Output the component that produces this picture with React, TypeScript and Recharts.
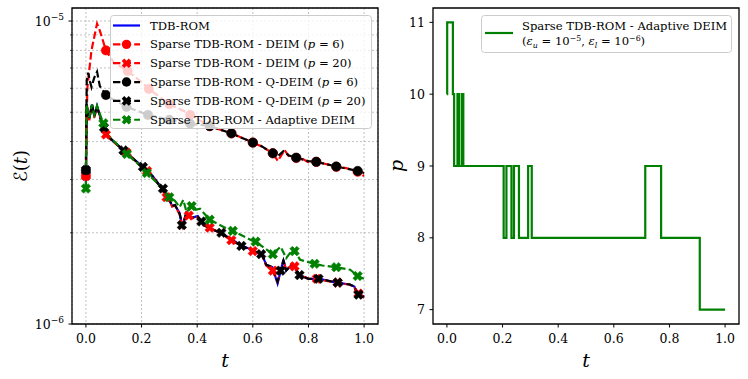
import React from 'react';
import { LineChart, Line, XAxis, YAxis, CartesianGrid, ReferenceArea, Legend, Label } from 'recharts';

const FONT = '"DejaVu Serif", "Liberation Serif", serif';
const INK = '#000000';
const BLUE = '#0000ff';
const RED = '#ff0000';
const BLACK = '#000000';
const GREEN = '#008000';
const DASH = '7.4 3.2';
const LW = 2.2;
const LEG_FS = 11.6;

// ---------- tick values ----------
const tTicks = [0, 0.2, 0.4, 0.6, 0.8, 1.0];
const errTicks = [1e-6, 2e-6, 3e-6, 4e-6, 5e-6, 6e-6, 7e-6, 8e-6, 9e-6, 1e-5];
const pTicks = [7, 8, 9, 10, 11];

// ---------- left panel: error E(t), values in units of 1e-6 ----------
const lowT = [0, 0.002, 0.012, 0.022, 0.03, 0.04, 0.055, 0.07, 0.1, 0.15, 0.2, 0.24, 0.266, 0.29, 0.3, 0.31, 0.32, 0.337, 0.347, 0.361, 0.379, 0.402, 0.42, 0.45, 0.48, 0.5, 0.523, 0.553, 0.6, 0.625, 0.635, 0.648, 0.67, 0.689, 0.71, 0.72, 0.743, 0.768, 0.8, 0.84, 0.9, 0.948, 0.965, 0.976, 1.0];
const tdbE = [2.8, 5.3, 4.75, 5.3, 4.85, 5.25, 4.7, 4.25, 4.0, 3.65, 3.33, 3.08, 2.86, 2.66, 2.58, 2.45, 2.47, 2.32, 2.09, 2.33, 2.24, 2.27, 2.13, 2.06, 2.01, 1.96, 1.9, 1.83, 1.75, 1.7, 1.68, 1.57, 1.54, 1.36, 1.63, 1.5, 1.58, 1.45, 1.41, 1.41, 1.37, 1.35, 1.33, 1.26, 1.23];
const deim20E = [3.08, 5.35, 4.7, 5.28, 4.8, 5.2, 4.72, 4.22, 3.98, 3.66, 3.3, 3.06, 2.85, 2.62, 2.56, 2.44, 2.46, 2.3, 2.1, 2.31, 2.23, 2.25, 2.12, 2.07, 2.0, 1.95, 1.89, 1.82, 1.74, 1.7, 1.67, 1.56, 1.5, 1.38, 1.6, 1.52, 1.56, 1.45, 1.41, 1.4, 1.37, 1.35, 1.32, 1.27, 1.22];
const qdeim20E = [3.22, 5.3, 4.78, 5.32, 4.86, 5.22, 4.68, 4.25, 4.0, 3.64, 3.32, 3.07, 2.85, 2.66, 2.57, 2.45, 2.47, 2.31, 2.1, 2.33, 2.24, 2.26, 2.13, 2.06, 2.01, 1.96, 1.9, 1.82, 1.75, 1.7, 1.68, 1.57, 1.54, 1.38, 1.62, 1.5, 1.58, 1.45, 1.41, 1.41, 1.37, 1.35, 1.33, 1.26, 1.23];

const deim20MarkT = [0, 0.072, 0.146, 0.22, 0.29, 0.37, 0.445, 0.523, 0.6, 0.672, 0.75, 0.83, 0.905, 0.98];
const deim20MarkE = [3.08, 4.22, 3.68, 3.2, 2.62, 2.28, 2.08, 1.89, 1.74, 1.5, 1.55, 1.41, 1.37, 1.26];
const qdeim20MarkT = [0, 0.065, 0.135, 0.205, 0.277, 0.345, 0.415, 0.487, 0.559, 0.63, 0.7, 0.768, 0.836, 0.905, 0.98];
const qdeim20MarkE = [3.22, 4.45, 3.74, 3.3, 2.8, 2.12, 2.18, 2.0, 1.81, 1.7, 1.5, 1.45, 1.41, 1.37, 1.25];

const adaptT = [0, 0.002, 0.012, 0.022, 0.03, 0.04, 0.055, 0.063, 0.07, 0.1, 0.147, 0.2, 0.219, 0.266, 0.3, 0.32, 0.337, 0.35, 0.362, 0.38, 0.395, 0.41, 0.445, 0.5, 0.528, 0.6, 0.61, 0.65, 0.672, 0.7, 0.72, 0.745, 0.77, 0.8, 0.822, 0.85, 0.9, 0.95, 0.977, 1.0];
const adaptE = [2.8, 5.3, 4.8, 5.3, 4.9, 5.25, 4.8, 4.6, 4.3, 4.02, 3.64, 3.3, 3.15, 2.86, 2.62, 2.55, 2.43, 2.57, 2.34, 2.45, 2.38, 2.4, 2.21, 2.08, 2.03, 1.88, 1.87, 1.76, 1.7, 1.8, 1.65, 1.77, 1.63, 1.6, 1.58, 1.56, 1.54, 1.51, 1.44, 1.41];
const adaptMarkT = [0, 0.063, 0.147, 0.219, 0.3, 0.38, 0.445, 0.528, 0.61, 0.672, 0.75, 0.822, 0.9, 0.977];
const adaptMarkE = [2.8, 4.6, 3.64, 3.15, 2.62, 2.45, 2.21, 2.03, 1.87, 1.7, 1.74, 1.58, 1.54, 1.44];

const deim6T = [0, 0.005, 0.02, 0.04, 0.05, 0.072, 0.1, 0.15, 0.2, 0.226, 0.3, 0.36, 0.375, 0.4, 0.445, 0.5, 0.523, 0.6, 0.63, 0.66, 0.672, 0.69, 0.714, 0.732, 0.756, 0.78, 0.804, 0.828, 0.876, 0.9, 0.936, 0.977, 1.0];
const deim6E = [3.08, 6.0, 8.0, 9.8, 9.3, 8.0, 7.3, 6.84, 6.29, 5.97, 5.32, 5.0, 4.9, 4.75, 4.5, 4.32, 4.26, 3.97, 3.86, 3.72, 3.66, 3.45, 3.75, 3.55, 3.53, 3.5, 3.4, 3.43, 3.35, 3.3, 3.27, 3.18, 3.08];
const deim6MarkT = [0, 0.072, 0.15, 0.226, 0.3, 0.375, 0.445, 0.523, 0.6, 0.672, 0.756, 0.828, 0.9, 0.977];
const deim6MarkE = [3.08, 8.0, 6.84, 5.97, 5.32, 4.9, 4.5, 4.26, 3.97, 3.66, 3.53, 3.43, 3.3, 3.18];

const qdeim6T = [0, 0.003, 0.008, 0.015, 0.02, 0.03, 0.04, 0.05, 0.072, 0.1, 0.146, 0.223, 0.3, 0.375, 0.43, 0.445, 0.523, 0.6, 0.63, 0.672, 0.69, 0.71, 0.73, 0.756, 0.8, 0.828, 0.9, 0.977, 1.0];
const qdeim6E = [3.22, 6.4, 6.75, 6.3, 6.05, 6.5, 6.8, 6.1, 5.7, 5.49, 5.21, 4.9, 4.72, 4.58, 4.52, 4.5, 4.26, 3.97, 3.87, 3.66, 3.58, 3.72, 3.6, 3.54, 3.45, 3.43, 3.31, 3.2, 3.15];
const qdeim6MarkT = [0, 0.072, 0.146, 0.223, 0.3, 0.375, 0.445, 0.523, 0.6, 0.672, 0.756, 0.828, 0.9, 0.977];
const qdeim6MarkE = [3.22, 5.7, 5.21, 4.9, 4.72, 4.58, 4.5, 4.26, 3.97, 3.66, 3.54, 3.43, 3.31, 3.2];

// ---------- right panel: number of DEIM points p(t) ----------
const pT = [0, 0.001, 0.0215, 0.026, 0.038, 0.044, 0.054, 0.059, 0.204, 0.214, 0.232, 0.241, 0.259, 0.292, 0.305, 0.713, 0.77, 0.909, 1.0];
const pV = [10, 11, 10, 9, 10, 9, 10, 9, 8, 9, 8, 9, 8, 9, 8, 9, 8, 7, 7];

// ---------- build tables ----------
const UNIT = 1e-6;
const pts = (ts: number[], vs: number[], unit = 1) => ts.map((t, i) => ({ t, v: vs[i] * unit }));

const tdbData = pts(lowT, tdbE, UNIT);
const deim20Data = pts(lowT, deim20E, UNIT);
const qdeim20Data = pts(lowT, qdeim20E, UNIT);
const deim6Data = pts(deim6T, deim6E, UNIT);
const qdeim6Data = pts(qdeim6T, qdeim6E, UNIT);
const adaptData = pts(adaptT, adaptE, UNIT);
const deim6Marks = pts(deim6MarkT, deim6MarkE, UNIT);
const deim20Marks = pts(deim20MarkT, deim20MarkE, UNIT);
const qdeim6Marks = pts(qdeim6MarkT, qdeim6MarkE, UNIT);
const qdeim20Marks = pts(qdeim20MarkT, qdeim20MarkE, UNIT);
const adaptMarks = pts(adaptMarkT, adaptMarkE, UNIT);
const pData = pts(pT, pV);

const ERR_DOMAIN: [number, number] = [1e-6, 1.104e-5];
const T_DOMAIN: [number, number] = [-0.05, 1.05];
const P_DOMAIN: [number, number] = [6.8, 11.2];

// ---------- marker shapes ----------
function xPath(cx: number, cy: number, a: number) {
  const w = a * 0.36;
  const P = [[-w, -a], [w, -a], [w, -w], [a, -w], [a, w], [w, w], [w, a], [-w, a], [-w, w], [-a, w], [-a, -w], [-w, -w]];
  const c = Math.SQRT1_2;
  return 'M' + P.map(([x, y]) => `${(cx + (x - y) * c).toFixed(2)},${(cy + (x + y) * c).toFixed(2)}`).join('L') + 'Z';
}

const circleDot = (color: string) => (props: any) => {
  const { cx, cy, index } = props;
  if (cx == null || cy == null || isNaN(cx) || isNaN(cy)) return <g key={`c${index}`} />;
  return <circle key={`c${index}`} cx={cx} cy={cy} r={4.7} fill={color} stroke={color} strokeWidth={0.5} />;
};
const xDot = (color: string) => (props: any) => {
  const { cx, cy, index } = props;
  if (cx == null || cy == null || isNaN(cx) || isNaN(cy)) return <g key={`x${index}`} />;
  return <path key={`x${index}`} d={xPath(cx, cy, 5)} fill={color} stroke={color} strokeWidth={0.5} />;
};

// ---------- ticks ----------
const BottomTick = (props: any) => {
  const { x, y, payload } = props;
  return (
    <g>
      <line x1={x} x2={x} y1={y} y2={y + 3.5} stroke={INK} strokeWidth={1} />
      <text x={x} y={y + 19} textAnchor="middle" fontFamily={FONT} fontSize={12.5} fill={INK}>
        {Number(payload.value).toFixed(1)}
      </text>
    </g>
  );
};

const ErrTick = (props: any) => {
  const { x, y, payload } = props;
  const e = Math.log10(payload.value);
  const major = Math.abs(e - Math.round(e)) < 1e-9;
  return (
    <g>
      <line x1={x} x2={x - (major ? 3.5 : 2)} y1={y} y2={y} stroke={INK} strokeWidth={major ? 1 : 0.7} />
      {major && (
        <text x={x - 8} y={y + 4.5} textAnchor="end" fontFamily={FONT} fontSize={12.5} fill={INK}>
          10
          <tspan dy={-5.5} fontSize={9}>{'\u2212' + Math.abs(Math.round(e))}</tspan>
        </text>
      )}
    </g>
  );
};

const PTick = (props: any) => {
  const { x, y, payload } = props;
  return (
    <g>
      <line x1={x} x2={x - 3.5} y1={y} y2={y} stroke={INK} strokeWidth={1} />
      <text x={x - 8} y={y + 4.5} textAnchor="end" fontFamily={FONT} fontSize={12.5} fill={INK}>
        {payload.value}
      </text>
    </g>
  );
};

// ---------- legends ----------
const leftLegend = [
  { name: 'TDB-ROM', p: '', color: BLUE, dash: false, marker: '' },
  { name: 'Sparse TDB-ROM - DEIM', p: '6', color: RED, dash: true, marker: 'o' },
  { name: 'Sparse TDB-ROM - DEIM', p: '20', color: RED, dash: true, marker: 'X' },
  { name: 'Sparse TDB-ROM - Q-DEIM', p: '6', color: BLACK, dash: true, marker: 'o' },
  { name: 'Sparse TDB-ROM - Q-DEIM', p: '20', color: BLACK, dash: true, marker: 'X' },
  { name: 'Sparse TDB-ROM - Adaptive DEIM', p: '', color: GREEN, dash: true, marker: 'X' },
];

const LEFT_LEG = { left: 110, top: 15, width: 262, height: 114 };
const RIGHT_LEG = { left: 101, top: 15, width: 251, height: 38 };

const LeftLegendBox = () => (
  <svg width={LEFT_LEG.width} height={LEFT_LEG.height} style={{ display: 'block' }}>
    <rect x={0.5} y={0.5} width={LEFT_LEG.width - 1} height={LEFT_LEG.height - 1} rx={3} fill="#ffffff" fillOpacity={0.8} stroke="#cccccc" strokeWidth={1} />
    {leftLegend.map((e, i) => {
      const cy = 10.5 + i * 18.85;
      return (
        <g key={i}>
          <line x1={3} x2={30} y1={cy} y2={cy} stroke={e.color} strokeWidth={LW} strokeDasharray={e.dash ? DASH : undefined} />
          {e.marker === 'o' && <circle cx={16.5} cy={cy} r={4.7} fill={e.color} />}
          {e.marker === 'X' && <path d={xPath(16.5, cy, 5)} fill={e.color} />}
          <text x={40} y={cy + 4} fontFamily={FONT} fontSize={LEG_FS} fill={INK}>
            {e.name}
            {e.p ? (
              <tspan>
                {' ('}
                <tspan fontStyle="italic">p</tspan>
                {' = ' + e.p + ')'}
              </tspan>
            ) : null}
          </text>
        </g>
      );
    })}
  </svg>
);

const RightLegendBox = () => (
  <svg width={RIGHT_LEG.width} height={RIGHT_LEG.height} style={{ display: 'block' }}>
    <rect x={0.5} y={0.5} width={RIGHT_LEG.width - 1} height={RIGHT_LEG.height - 1} rx={3} fill="#ffffff" fillOpacity={0.8} stroke="#cccccc" strokeWidth={1} />
    <line x1={4} x2={32} y1={18} y2={18} stroke={GREEN} strokeWidth={LW} />
    <text x={41} y={14.5} fontFamily={FONT} fontSize={LEG_FS} fill={INK}>Sparse TDB-ROM - Adaptive DEIM</text>
    <text x={41} y={30} fontFamily={FONT} fontSize={LEG_FS} fill={INK}>
      (<tspan fontStyle="italic">ε</tspan>
      <tspan fontSize={7.8} fontStyle="italic" dy={2.5}>u</tspan>
      <tspan dy={-2.5}> = 10</tspan>
      <tspan fontSize={7.8} dy={-4.5}>{'\u22125'}</tspan>
      <tspan dy={4.5}>, </tspan>
      <tspan fontStyle="italic">ε</tspan>
      <tspan fontSize={7.8} fontStyle="italic" dy={2.5}>l</tspan>
      <tspan dy={-2.5}> = 10</tspan>
      <tspan fontSize={7.8} dy={-4.5}>{'\u22126'}</tspan>
      <tspan dy={4.5}>)</tspan>
    </text>
  </svg>
);

// ---------- axis labels ----------
const XLabel = (props: any) => {
  const vb = props.viewBox || { x: 0, y: 0, width: 0, height: 0 };
  return (
    <text x={vb.x + vb.width / 2} y={vb.y + 43} textAnchor="middle" fontFamily={FONT} fontStyle="italic" fontSize={19} fill={INK}>
      t
    </text>
  );
};

const ErrLabel = (props: any) => {
  const vb = props.viewBox || { x: 0, y: 0, width: 0, height: 0 };
  const cx = vb.x + 20;
  const cy = vb.y + vb.height / 2;
  return (
    <text x={cx} y={cy} transform={`rotate(-90 ${cx} ${cy})`} textAnchor="middle" dominantBaseline="central" fontFamily={FONT} fontSize={18} fill={INK}>
      <tspan fontFamily='"DejaVu Sans", "DejaVu Serif", serif'>ℰ</tspan>(<tspan fontStyle="italic">t</tspan>)
    </text>
  );
};

const PLabel = (props: any) => {
  const vb = props.viewBox || { x: 0, y: 0, width: 0, height: 0 };
  const cx = vb.x + 16;
  const cy = vb.y + vb.height / 2;
  return (
    <text x={cx} y={cy} transform={`rotate(-90 ${cx} ${cy})`} textAnchor="middle" dominantBaseline="central" fontFamily={FONT} fontStyle="italic" fontSize={19} fill={INK}>
      p
    </text>
  );
};

const dashedLine = (key: string, data: any[], color: string) => (
  <Line key={key} data={data} dataKey="v" type="linear" stroke={color} strokeWidth={LW} strokeDasharray={DASH} dot={false} activeDot={false} isAnimationActive={false} legendType="none" />
);
const markLine = (key: string, data: any[], render: any) => (
  <Line key={key} data={data} dataKey="v" type="linear" stroke="none" strokeWidth={0} dot={render} activeDot={false} isAnimationActive={false} legendType="none" />
);

export default function App() {
  return (
    <div style={{ position: 'absolute', left: 0, top: 0, width: 748, height: 379, background: '#ffffff' }}>
      <div style={{ position: 'absolute', left: 0, top: 0 }}>
        <LineChart width={380} height={379} margin={{ top: 8, right: 2, bottom: 25, left: 0 }}>
          <CartesianGrid stroke="#b0b0b0" strokeWidth={0.8} strokeDasharray="2 2" />
          <XAxis type="number" dataKey="t" domain={T_DOMAIN} allowDataOverflow ticks={tTicks} interval={0} tick={<BottomTick />} tickSize={0} tickMargin={0} tickLine={false} axisLine={false} height={30}>
            <Label content={<XLabel />} />
          </XAxis>
          <YAxis type="number" dataKey="v" scale="log" domain={ERR_DOMAIN} allowDataOverflow ticks={errTicks} interval={0} tick={<ErrTick />} tickSize={0} tickMargin={0} tickLine={false} axisLine={false} width={72}>
            <Label content={<ErrLabel />} />
          </YAxis>
          <Line data={tdbData} dataKey="v" type="linear" stroke={BLUE} strokeWidth={LW} dot={false} activeDot={false} isAnimationActive={false} legendType="none" />
          {dashedLine('d6', deim6Data, RED)}
          {markLine('d6m', deim6Marks, circleDot(RED))}
          {dashedLine('d20', deim20Data, RED)}
          {markLine('d20m', deim20Marks, xDot(RED))}
          {dashedLine('q6', qdeim6Data, BLACK)}
          {markLine('q6m', qdeim6Marks, circleDot(BLACK))}
          {dashedLine('q20', qdeim20Data, BLACK)}
          {markLine('q20m', qdeim20Marks, xDot(BLACK))}
          {dashedLine('ad', adaptData, GREEN)}
          {markLine('adm', adaptMarks, xDot(GREEN))}
          <ReferenceArea x1={T_DOMAIN[0]} x2={T_DOMAIN[1]} y1={ERR_DOMAIN[0]} y2={ERR_DOMAIN[1]} fill="none" fillOpacity={0} stroke={INK} strokeWidth={1.3} ifOverflow="visible" />
          <Legend layout="vertical" align="center" verticalAlign="middle" content={<LeftLegendBox />} wrapperStyle={{ left: LEFT_LEG.left, top: LEFT_LEG.top, width: LEFT_LEG.width, height: LEFT_LEG.height, right: 'auto', bottom: 'auto' }} />
        </LineChart>
      </div>
      <div style={{ position: 'absolute', left: 380, top: 0 }}>
        <LineChart width={368} height={379} margin={{ top: 8, right: 9, bottom: 25, left: 0 }}>
          <XAxis type="number" dataKey="t" domain={T_DOMAIN} allowDataOverflow ticks={tTicks} interval={0} tick={<BottomTick />} tickSize={0} tickMargin={0} tickLine={false} axisLine={false} height={30}>
            <Label content={<XLabel />} />
          </XAxis>
          <YAxis type="number" dataKey="v" domain={P_DOMAIN} allowDataOverflow ticks={pTicks} interval={0} tick={<PTick />} tickSize={0} tickMargin={0} tickLine={false} axisLine={false} width={53}>
            <Label content={<PLabel />} />
          </YAxis>
          <Line data={pData} dataKey="v" type="stepAfter" stroke={GREEN} strokeWidth={LW} dot={false} activeDot={false} isAnimationActive={false} legendType="none" />
          <ReferenceArea x1={T_DOMAIN[0]} x2={T_DOMAIN[1]} y1={P_DOMAIN[0]} y2={P_DOMAIN[1]} fill="none" fillOpacity={0} stroke={INK} strokeWidth={1.3} ifOverflow="visible" />
          <Legend layout="vertical" align="center" verticalAlign="middle" content={<RightLegendBox />} wrapperStyle={{ left: RIGHT_LEG.left, top: RIGHT_LEG.top, width: RIGHT_LEG.width, height: RIGHT_LEG.height, right: 'auto', bottom: 'auto' }} />
        </LineChart>
      </div>
    </div>
  );
}
